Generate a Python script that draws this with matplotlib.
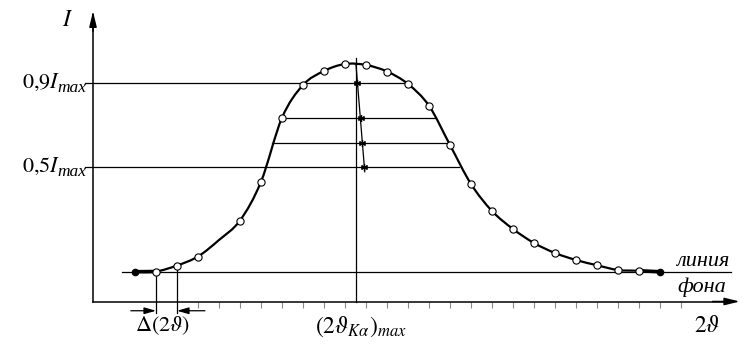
import numpy as np
import matplotlib
matplotlib.use('Agg')
import matplotlib.pyplot as plt
from matplotlib.path import Path
from matplotlib.patches import PathPatch

plt.rcParams['font.family'] = ['Liberation Serif', 'DejaVu Serif']
plt.rcParams['mathtext.fontset'] = 'stix'

# ── data (2θ in scan steps, I in counts) ─────────────────────────────────────
theta2 = [2, 3, 4, 5, 6, 7, 8, 9, 10, 11, 12, 13, 14, 15, 16, 17, 18, 19,
          20, 21, 22, 23, 24, 25, 26, 27]
intensity = [119, 120, 144, 180, 246, 324, 479, 735, 866, 922, 950, 946, 920,
             870, 783, 626, 470, 362, 290, 234, 194, 166, 145, 126, 123, 119]
measured = [3, 4, 5, 7, 8, 9, 10, 11, 12, 13, 14, 15, 16, 17, 18, 19, 20, 21,
            22, 23, 24, 25, 26]          # open circles
ends = [2, 27]                           # filled end points

background_I = 119
background_x = [1.37, 30.4]

# chords at 0.9, ..., 0.5 of I_max and their midpoints
chord_I = [873, 735, 633, 537]
chord_x0 = [-0.38, 9.0, 8.5, -0.38]
chord_x1 = [14.9, 16.3, 16.97, 17.45]
mid_x = [12.56, 12.74, 12.8, 12.92]
incline_x = [12.52, 12.94]
incline_I = [950, 519]

peak_x = 12.52
peak_line_top = 974
delta_x = [3, 4]
delta_I = [120, 144]

tick_x = list(range(5, 29))
level_labels = ['0{,}9', '0{,}5']
level_base_I = [856, 519]

# ── figure ────────────────────────────────────────────────────────────────────
fig = plt.figure(figsize=(7.51, 3.5), dpi=100)
ax = fig.add_axes([0, 0, 1, 1])
ax.set_xlim(-93 / 21, (751 - 93) / 21)
ax.set_ylim(-194, 1206)
ax.set_facecolor('white')
for s in ['top', 'right']:
    ax.spines[s].set_visible(False)
ax.spines['left'].set_position(('data', 0))
ax.spines['bottom'].set_position(('data', 0))
ax.spines['left'].set_bounds(0, 1150)
ax.spines['bottom'].set_bounds(0, 30.4)
ax.spines['left'].set_linewidth(1.1)
ax.spines['bottom'].set_linewidth(1.1)
ax.set_yticks([])
ax.set_xticks(tick_x)
ax.set_xticklabels([])
ax.tick_params(axis='x', direction='out', length=4, width=0.8, color='#888888')

# axis arrows
arr = dict(arrowstyle='-|>,head_length=0.9,head_width=0.22', color='k', lw=1.1,
           shrinkA=0, shrinkB=0)
ax.annotate('', xy=(30.8, 0), xytext=(29.5, 0), arrowprops=arr)
ax.annotate('', xy=(0, 1160), xytext=(0, 1080), arrowprops=arr)

# background line
ax.plot(background_x, [background_I] * 2, color='k', lw=0.9, zorder=2)

# smooth curve through the points (Catmull-Rom as Bezier path)
P = np.column_stack([theta2, intensity]).astype(float)
verts = [P[0]]
codes = [Path.MOVETO]
for i in range(len(P) - 1):
    p0 = P[i - 1] if i > 0 else P[i]
    p3 = P[i + 2] if i + 2 < len(P) else P[i + 1]
    c1 = P[i] + (P[i + 1] - p0) / 6
    c2 = P[i + 1] - (p3 - P[i]) / 6
    verts += [c1, c2, P[i + 1]]
    codes += [Path.CURVE4] * 3
ax.add_patch(PathPatch(Path(verts, codes), fc='none', ec='k', lw=1.6,
                       zorder=4, transform=ax.transData))

# thick end segments
ax.plot(theta2[:2], intensity[:2], color='k', lw=2.6, zorder=4,
        solid_capstyle='butt')
ax.plot(theta2[-2:], intensity[-2:], color='k', lw=2.6, zorder=4,
        solid_capstyle='butt')

lookup = dict(zip(theta2, intensity))
ax.plot(measured, [lookup[t] for t in measured], ls='none', marker='o', ms=5.2,
        mfc='white', mec='k', mew=0.8, zorder=6)
ax.plot(ends, [lookup[t] for t in ends], ls='none', marker='o', ms=4.5,
        mfc='k', mec='k', zorder=6)

# chords
for y, x0, x1 in zip(chord_I, chord_x0, chord_x1):
    ax.plot([x0, x1], [y, y], color='k', lw=0.9, zorder=3)

# vertical through the peak
ax.plot([peak_x, peak_x], [0, peak_line_top], color='k', lw=0.9, zorder=3)
# line through chord midpoints
ax.plot(incline_x, incline_I, color='k', lw=0.9, zorder=5)
ax.plot(mid_x, chord_I, ls='none', marker=(6, 2, 0), ms=5, mec='k', mew=0.9,
        zorder=6)

# Δ(2θ) marks
for x, y in zip(delta_x, delta_I):
    ax.plot([x, x], [y, -45], color='k', lw=0.9, zorder=3)
darr = dict(arrowstyle='-|>,head_length=0.7,head_width=0.2', color='k', lw=0.9,
            shrinkA=0, shrinkB=0)
ax.annotate('', xy=(delta_x[0], -37), xytext=(1.8, -37), arrowprops=darr)
ax.annotate('', xy=(delta_x[1], -37), xytext=(5.33, -37), arrowprops=darr)

# texts
fs = 16
ax.text(-1.2, 1126, r'$I$', fontsize=17, ha='center', va='center')
for lab, yb in zip(level_labels, level_base_I):
    ax.text(-1.56, yb, rf'${lab}I$', fontsize=fs, ha='right', va='baseline')
    ax.text(-1.72, yb - 18, 'max', fontsize=12.5, style='italic', ha='left',
            va='baseline')
ax.text(3.31, -98, r'$\Delta(2\vartheta)$', fontsize=fs, ha='center',
        va='center')
ax.text(12.76, -102, r'$(2\vartheta_{K\alpha})_{max}$', fontsize=17,
        ha='center', va='center')
ax.text(29.25, -102, r'$2\vartheta$', fontsize=17, ha='center', va='center')
ax.text(29.05, 160, 'линия', fontsize=fs, style='italic', ha='center',
        va='center')
ax.text(29.0, 56, 'фона', fontsize=fs, style='italic', ha='center',
        va='center')

fig.savefig('out.png', dpi=100, facecolor='white')
